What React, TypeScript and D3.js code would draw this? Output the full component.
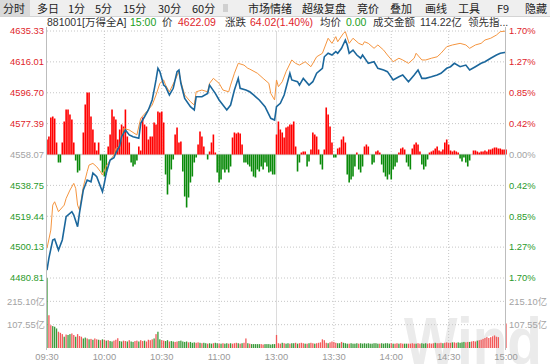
import React from "react";
import * as d3 from "d3";

// ---------- data ----------
const prevClose = 4558.07;
const priceTicks = [4635.33, 4616.01, 4596.7, 4577.39, 4558.07, 4538.75, 4519.44, 4500.13, 4480.81];
const pctLabels = ["1.70%", "1.27%", "0.85%", "0.42%", "0.00%", "0.42%", "0.85%", "1.27%", "1.70%"];
const timeTicks = [0, 30, 60, 90, 120, 150, 180, 210, 240];
const timeLabels = ["09:30", "10:00", "10:30", "11:00", "13:00", "13:30", "14:00", "14:30", "15:00"];
const volTicks = [215.1, 107.55];
const volTickLabels = ["215.10亿", "107.55亿"];
const volMax = 322.65;

const toolbarItems = ["分时", "多日", "1分", "5分", "15分", "30分", "60分", "", "市场情绪", "超级复盘", "竞价", "叠加", "画线", "工具", "F9", "隐藏"];
const toolbarX = [3, 37, 68, 95, 123, 158, 192, 223, 248, 302, 357, 390, 425, 458, 497, 525];

// index line (minute, price)
const indexLine: [number, number][] = [
  [0, 4485.8], [1, 4493.3], [3, 4504.6], [4, 4505.2], [6, 4498.3], [8, 4504.6], [10, 4519.2], [13, 4522.3],
  [14, 4520.2], [16, 4512.9], [17, 4521.5], [19, 4535.9], [21, 4542.1], [23, 4541.0], [24, 4546.5], [26, 4544.2],
  [28, 4537.9], [29, 4534.8], [30, 4540.2], [31, 4546.5], [33, 4554.6], [35, 4556.0], [36, 4559.0], [38, 4563.4],
  [39, 4569.2], [41, 4573.4], [43, 4570.3], [45, 4569.2], [48, 4568.2], [49, 4577.6], [51, 4581.7], [53, 4585.9],
  [55, 4592.2], [56, 4598.4], [57, 4604.7], [58, 4612.0], [59, 4609.9], [61, 4601.5], [62, 4600.5], [64, 4595.3],
  [66, 4599.5], [68, 4609.9], [69, 4610.9], [70, 4602.6], [72, 4593.2], [75, 4588.0], [77, 4585.9], [78, 4594.2],
  [81, 4594.2], [84, 4596.3], [85, 4601.5], [88, 4596.3], [90, 4592.2], [94, 4585.9], [96, 4589.0], [98, 4598.4],
  [100, 4605.7], [101, 4599.5], [104, 4598.4], [106, 4597.3], [108, 4595.3], [111, 4592.2], [114, 4588.0],
  [117, 4580.7], [119, 4579.6], [120, 4588.0], [122, 4590.1], [124, 4595.3], [127, 4608.9], [128, 4604.7],
  [131, 4603.6], [132, 4601.5], [134, 4605.7], [137, 4601.5], [139, 4603.6], [141, 4608.9], [144, 4612.0],
  [145, 4619.2], [147, 4621.4], [149, 4620.3], [151, 4622.4], [152, 4621.4], [154, 4624.5], [156, 4629.7],
  [157, 4626.6], [158, 4621.4], [160, 4623.4], [162, 4620.3], [164, 4618.3], [165, 4620.3], [168, 4615.1],
  [171, 4616.1], [173, 4612.0], [176, 4610.9], [178, 4609.9], [181, 4604.7], [184, 4606.7], [186, 4607.8],
  [189, 4603.6], [192, 4607.8], [194, 4610.9], [196, 4605.7], [198, 4605.7], [201, 4606.7], [204, 4607.8],
  [206, 4608.9], [209, 4612.0], [211, 4613.0], [213, 4615.1], [216, 4613.0], [219, 4614.0], [221, 4610.9],
  [224, 4613.0], [227, 4615.1], [229, 4616.1], [232, 4618.3], [235, 4620.3], [237, 4621.4], [240, 4622.09],
];

// lead indicator line (minute, price)
const leadLine: [number, number][] = [
  [0, 4499.4], [2, 4510.8], [3, 4526.4], [4, 4528.5], [6, 4522.3], [9, 4526.4], [10, 4530.6], [12, 4535.8],
  [14, 4540.0], [15, 4536.9], [16, 4526.4], [17, 4523.3], [19, 4537.9], [21, 4547.3], [22, 4551.5], [24, 4552.5],
  [26, 4550.4], [28, 4547.3], [29, 4545.2], [31, 4550.8], [33, 4554.6], [35, 4557.7], [36, 4561.9], [38, 4562.9],
  [40, 4574.4], [43, 4573.4], [47, 4570.3], [49, 4580.7], [52, 4584.8], [55, 4589.0], [57, 4595.3], [59, 4602.6],
  [61, 4604.7], [62, 4601.5], [64, 4597.3], [67, 4604.7], [69, 4609.9], [70, 4603.6], [72, 4595.3], [75, 4591.1],
  [77, 4589.0], [78, 4597.3], [81, 4598.4], [84, 4597.3], [85, 4602.6], [87, 4605.7], [90, 4602.6], [92, 4598.4],
  [95, 4597.3], [96, 4601.5], [98, 4608.9], [100, 4615.1], [103, 4614.0], [105, 4612.0], [106, 4611.5],
  [110, 4608.9], [113, 4605.7], [116, 4602.6], [117, 4596.3], [119, 4592.2], [120, 4604.7], [121, 4600.5],
  [123, 4603.6], [125, 4609.9], [128, 4617.2], [130, 4615.1], [132, 4614.0], [135, 4616.1], [138, 4613.0],
  [141, 4619.2], [144, 4621.4], [147, 4630.8], [149, 4627.6], [151, 4631.8], [152, 4628.6], [155, 4633.9],
  [156, 4634.9], [158, 4627.6], [160, 4630.8], [163, 4627.6], [165, 4626.6], [166, 4628.6], [168, 4627.6],
  [171, 4624.5], [173, 4626.6], [176, 4623.4], [178, 4620.3], [181, 4616.1], [184, 4618.3], [186, 4617.2],
  [189, 4615.1], [192, 4618.3], [193, 4621.4], [196, 4617.2], [198, 4617.2], [201, 4618.3], [204, 4619.2],
  [206, 4621.4], [209, 4625.5], [212, 4626.6], [216, 4627.6], [219, 4626.6], [221, 4624.5], [224, 4626.6],
  [227, 4627.6], [229, 4629.7], [232, 4630.8], [235, 4632.8], [237, 4634.9], [240, 4635.3],
];

// per-minute strength bars (m0..m240)
const forceBars = [
  15, 18, 37, 38, 36, 12, -8, -8, 12, 33,
  45, 45, 40, 35, 12, -6, -18, -16, 0, 22,
  50, 62, 62, 38, 25, 12, 4, 12, -6, -18,
  -22, -20, 8, 20, 45, 38, 35,
  15, 25, 30, 28, 45, 18, 12, -8, -12, -10, -6, 8, 4,
  37, 30, 28, 15, 18, 18, 32, 30, 43, 42, 43, 32,
  -20, -40, -30, -15, -5, 20, 27, 12, 13,
  -17, -42, -53, -43, -28, -22, -8, -3,
  10, 23, 18, 8, 0, -5, 3, 12, 20, 2,
  -18, -28, -25, -15, -18, -15, -18, -12,
  17, 22, 21, 22, 21, 10,
  -8, -8, -10, -12, -17, -22, -23, -15, -17, -12, -15, -8, -12, -18, -17, -20, -20,
  20, 33, 25, 22, 17, 27, 28, 30, 30, 33, 8,
  -17, -8, 2, 3, 3, -12, -7, 5, 22, 20, 18, 5, -10, -15, 5,
  47, 40, 28, 12, -3, -3, 6,
  7, 15, 18, 12, -20, -28, -25, -22,
  -12, 2, -15, -18, -12, 8, 10, 8, 0, -10,
  -8, 3, 4, 2, -10, -18, -22, -25, -20, -25,
  -15, -12, -8, 2, 6, 7, 5, -8, -12, -15,
  6, 10, 12, 10, 3, -10, -15, -12, -5, 2,
  3, 4, 6, 8, 4, 3, 5, 12, 15, 10,
  4, 3, 4, 3, 2, -4, -7, -3, -8, -12,
  -6, 0, 4, 4, 3, 2, 3, 3, 4, 3,
  5, 5, 6, 7, 7, 6, 6, 5, 5, 5,
];

// per-minute turnover (亿), m0..m240
const volumes = [
  322, 151, 105, 101, 98, 90, 75, 70, 64, 52,
  62, 60, 64, 67, 60, 52, 64, 55, 52, 44, 48,
  44, 40, 42, 38, 44, 40, 38, 36, 40, 38,
  34, 36, 32, 30, 34, 38, 45, 32, 30, 34,
  32, 30, 36, 30, 28, 32, 34, 30, 36, 32,
  34, 30, 38, 36, 40, 44, 64, 75, 40, 36,
  34, 32, 36, 30, 32, 30, 28, 30, 32, 34,
  30, 28, 30, 26, 28, 24, 26, 24, 26, 24,
  22, 24, 22, 20, 22, 20, 22, 24, 22, 20,
  20, 22, 20, 22, 20, 22, 20, 22, 24, 22,
  20, 22, 24, 44, 22, 20, 18, 18, 18, 18,
  18, 18, 16, 18, 18, 18, 16, 18, 18,
  60,
  22, 20, 24, 22, 20, 22, 20, 22, 22, 24,
  20, 22, 24, 22, 20, 20, 22, 24, 22, 20,
  22, 24, 26, 40, 36, 24, 22, 26, 30, 28,
  24, 22, 22, 28, 24, 22, 20, 20, 22, 20,
  20, 22, 20, 22, 20, 22, 20, 22, 20, 20,
  22, 22, 20, 20, 22, 20, 22, 22, 20, 22,
  20, 20, 22, 20, 22, 20, 20, 20, 20, 20,
  22, 20, 20, 22, 20, 22, 20, 22, 20, 22,
  20, 22, 24, 22, 22, 24, 22, 24, 26, 24,
  24, 26, 26, 24, 26, 24, 26, 28, 26, 28,
  28, 30, 32, 30, 34, 36, 38, 42, 46, 50,
  46, 50, 54, 58, 52, 50, 0, 0, 0, 113,
];
const volDirs = (
  "GRRGGGRRRGRGGRRGRRRGG" +
  "RGRGRRGRGR" + "GRGGRRRGGR" + "RGRGGRRGRR" + "GRRRRGRGGR" + "RGGRGGRRGG" +
  "GGGRGGGRRG" + "RGGRGGRGGR" + "GRGGRGRRRG" + "RGRRGRGGGG" + "GRRGGGGGG" + "R" +
  "RRGRGGRGGR" + "GRRRGRGRRG" + "RRRRRRGRRR" + "RGGRGGGRGG" + "GGRGGGGGGG" +
  "GGGRGGGGGR" + "GRRGRRGGRR" + "RRGRRGGGRR" + "RRGRRRGRRR" + "RGRRGGGGRR" +
  "GRRRGRRRRR" + "RRRRRRRRRR"
).split("");

const header = [
  { t: "881001[万得全A]", x: 47, c: "#333" },
  { t: "15:00", x: 130, c: "#1a9e1a" },
  { t: "价", x: 162, c: "#333" },
  { t: "4622.09", x: 178, c: "#e0252b" },
  { t: "涨跌", x: 225, c: "#333" },
  { t: "64.02(1.40%)", x: 250, c: "#e0252b" },
  { t: "均价", x: 320, c: "#333" },
  { t: "0.00", x: 346, c: "#1a9e1a" },
  { t: "成交金额", x: 373, c: "#333" },
  { t: "114.22亿", x: 420, c: "#333" },
  { t: "领先指...", x: 468, c: "#333" },
];

// ---------- chart ----------
const RED = "#e0252b";
const GREEN = "#2a9a2a";
const GRAY = "#a3a3a3";
const FONT = "'Liberation Sans', 'Noto Sans CJK SC', sans-serif";
const CJK = "'Noto Sans CJK SC', sans-serif";

export default function App() {
  const L = 47, R = 506, TOP = 31, PB = 278, VB = 348;
  const x = d3.scaleLinear().domain([0, 240]).range([L, R]);
  const y = d3.scaleLinear().domain([4480.81, 4635.33]).range([PB, TOP]);
  const fy = d3.scaleLinear().domain([-123.5, 123.5]).range([PB, TOP]);
  const vy = d3.scaleLinear().domain([0, volMax]).range([VB, PB]);
  const line = d3.line<[number, number]>().x((d) => x(d[0])).y((d) => y(d[1]));
  const zeroY = y(prevClose);

  const tickColor = (v: number) => (Math.abs(v - prevClose) < 0.01 ? GRAY : v > prevClose ? RED : GREEN);

  return (
    <svg width={550} height={364} style={{ position: "absolute", left: 0, top: 0, background: "#fff" }}>
      {/* toolbar */}
      <rect x={0} y={0} width={550} height={16} fill="#efefef" />
      <rect x={0} y={0} width={30} height={16} fill="#d9d9d9" />
      <line x1={0} x2={550} y1={16.5} y2={16.5} stroke="#d4d4d4" />
      {toolbarItems.map((t, i) =>
        t ? (
          <text key={i} x={toolbarX[i]} y={12.5} fontSize={11} fontFamily={CJK} fill="#222">
            {t}
          </text>
        ) : (
          <g key={i}>
            <rect x={toolbarX[i]} y={4} width={5} height={8} fill="#d0d0d0" />
          </g>
        )
      )}
      {/* header row */}
      {header.map((h, i) => (
        <text key={i} x={h.x} y={26} fontSize={10.5} fontFamily={FONT} fill={h.c}>
          {h.t}
        </text>
      ))}

      {/* watermark */}
      <text x={404} y={364} fontSize={66} fontWeight="bold" fontFamily={FONT} fill="#ebebeb" textLength={138} lengthAdjust="spacingAndGlyphs">
        Wind
      </text>

      {/* horizontal grid */}
      {priceTicks.map((v, i) =>
        i === 4 ? null : (
          <line key={i} x1={L} x2={R} y1={y(v)} y2={y(v)} stroke="#c6c6c6" strokeDasharray="1 2" />
        )
      )}
      {volTicks.map((v, i) => (
        <line key={i} x1={L} x2={R} y1={vy(v)} y2={vy(v)} stroke="#c6c6c6" strokeDasharray="1 2" />
      ))}
      {/* vertical grid */}
      {timeTicks.slice(1, -1).map((m, i) =>
        m === 120 ? (
          <line key={i} x1={x(m)} x2={x(m)} y1={TOP} y2={VB} stroke="#dcdcdc" />
        ) : (
          <line key={i} x1={x(m)} x2={x(m)} y1={TOP} y2={VB} stroke="#c6c6c6" strokeDasharray="1 2" />
        )
      )}
      {/* zero line */}
      <line x1={L} x2={R} y1={zeroY} y2={zeroY} stroke="#d6d6d6" strokeWidth={1.6} />

      {/* strength bars */}
      {forceBars.map((v, m) =>
        v === 0 ? null : (
          <rect
            key={m}
            x={x(m) - 0.8}
            width={1.6}
            y={Math.min(fy(v), fy(0))}
            height={Math.abs(fy(v) - fy(0))}
            fill={v > 0 ? "#f00" : "#0a8a0a"}
          />
        )
      )}

      {/* volume bars */}
      {volumes.map((v, m) =>
        v === 0 ? null : (
          <rect
            key={m}
            x={x(m) - 0.65}
            width={1.3}
            y={vy(v)}
            height={vy(0) - vy(v)}
            fill={volDirs[m] === "R" ? "#f25a5a" : "#3a9a3a"}
          />
        )
      )}

      {/* lines */}
      <path d={line(leadLine) || ""} fill="none" stroke="#f5953f" strokeWidth={1} />
      <path d={line(indexLine) || ""} fill="none" stroke="#1b679c" strokeWidth={1.6} />

      {/* axes frame */}
      <line x1={L - 0.5} x2={L - 0.5} y1={27} y2={VB + 2} stroke="#bdbdbd" />
      <line x1={R - 0.5} x2={R - 0.5} y1={27} y2={VB + 2} stroke="#bdbdbd" />

      {/* left labels */}
      {priceTicks.map((v, i) => (
        <text key={i} x={44} y={y(v)} dy="0.35em" textAnchor="end" fontSize={9.4} fontFamily={FONT} fill={tickColor(v)}>
          {v.toFixed(2)}
        </text>
      ))}
      {/* right labels */}
      {pctLabels.map((p, i) => (
        <text key={i} x={509} y={y(priceTicks[i])} dy="0.35em" fontSize={9.4} fontFamily={FONT} fill={i < 4 ? RED : i === 4 ? GRAY : GREEN}>
          {p}
        </text>
      ))}
      {/* volume labels */}
      {volTicks.map((v, i) => (
        <g key={i}>
          <text x={45} y={vy(v)} dy="0.35em" textAnchor="end" fontSize={9.4} fontFamily={FONT} fill={GRAY}>
            {volTickLabels[i]}
          </text>
          <text x={509} y={vy(v)} dy="0.35em" fontSize={9.4} fontFamily={FONT} fill={GRAY}>
            {volTickLabels[i]}
          </text>
        </g>
      ))}
      {/* time labels */}
      {timeTicks.map((m, i) => (
        <text key={i} x={x(m)} y={360} textAnchor="middle" fontSize={9.4} fontFamily={FONT} fill="#999">
          {timeLabels[i]}
        </text>
      ))}
    </svg>
  );
}
